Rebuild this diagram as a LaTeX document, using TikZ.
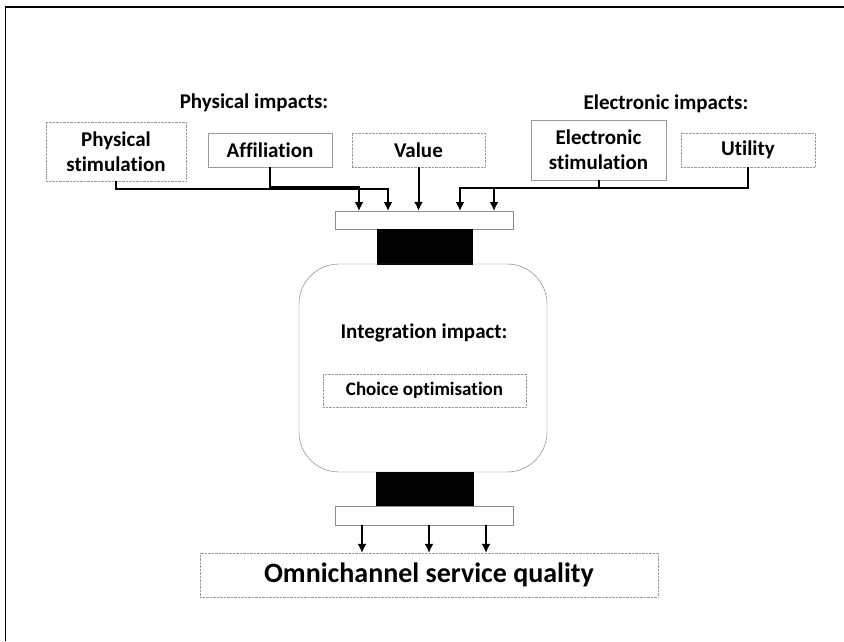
\documentclass[tikz,border=0pt]{standalone}
\usepackage{fontspec}
\setmainfont{Carlito}[Ligatures=NoCommon]
\usetikzlibrary{positioning,arrows.meta}
\newcommand{\impactfont}{\fontsize{21}{25}\selectfont\bfseries}

\tikzset{
  impactbox/.style={draw=gray!80,densely dotted,thin,fill=white,inner sep=0pt,align=center,font=\impactfont},
  impactboxsolid/.style={draw=gray!80,thin,fill=white,inner sep=0pt,align=center,font=\impactfont},
  barbox/.style={draw=gray!90,thin,fill=white,inner sep=0pt},
  blockbox/.style={fill=black,draw=black,inner sep=0pt},
  link/.style={line width=2pt}
}

\begin{document}
\begin{tikzpicture}[x=1pt,y=-1pt,>={Latex[length=9pt,width=9pt]}]
\useasboundingbox (0,0) rectangle (844,641);
%the frame
\draw[line width=1.6pt] (844,7) -- (5.5,7) -- (5.5,641);
%the headers
\node [font=\impactfont] (physhead) at (254,103) {Physical impacts:};
\node [font=\impactfont] (elechead) at (666,104) {Electronic impacts:};
%the boxes on top
\node [impactbox,minimum width=140pt,minimum height=59pt] (physstim) at (116,151.5) {Physical\\stimulation};
\node [impactboxsolid,minimum width=124pt,minimum height=34pt] (affil) at (270,150) {Affiliation};
\node [impactbox,minimum width=133pt,minimum height=34pt] (value) at (418.5,150) {Value};
\node [impactboxsolid,minimum width=135pt,minimum height=60pt] (elecstim) at (598.5,150) {Electronic\\stimulation};
\node [impactbox,minimum width=134pt,minimum height=34pt] (utility) at (748,150) {Utility};
%the middle part
\node [barbox,minimum width=178pt,minimum height=18pt] (topbar) at (424,220) {};
\node [blockbox,minimum width=95pt,minimum height=35pt] (topblock) at (424.5,246.5) {};
\node [draw=gray!90!black,thin,rounded corners=40pt,minimum width=248pt,minimum height=208pt] (integ) at (423,368) {};
\node [font=\impactfont] (integhead) at (424,333) {Integration impact:};
\node [impactbox,minimum width=203pt,minimum height=33pt,font=\fontsize{19}{22}\selectfont\bfseries] (choice) at (424.5,390.5) {Choice optimisation};
\node [blockbox,minimum width=97pt,minimum height=34pt] (botblock) at (424.5,489) {};
\node [barbox,minimum width=178pt,minimum height=19pt] (botbar) at (424,515.5) {};
\node [impactbox,minimum width=458pt,minimum height=44pt,font=\fontsize{28}{32}\selectfont\bfseries] (omni) at (429,575) {Omnichannel service quality};
%the inputs on the top bar
\coordinate (pin1) at (359,211);
\coordinate (pin2) at (388,211);
\coordinate (pin4) at (460,211);
\coordinate (pin5) at (494,211);
%drawings of lines
\draw[link,->] (physstim.south) -- ++(0,8) -| (pin2);

\draw[link,->] (affil.south) -- ++(0,20) -| (pin1);

\draw[link,->] (value.south) -- (value.south |- topbar.north);

\draw[link,->] (elecstim.south) -- ++(0,8) -| (pin4);

\draw[link,->] (utility.south) -- ++(0,21) -| (pin5);

\foreach \x in {362,429,486}
  \draw[line width=1.4pt,->] (botbar.south -| \x,0) -- (omni.north -| \x,0);

\end{tikzpicture}
\end{document}
